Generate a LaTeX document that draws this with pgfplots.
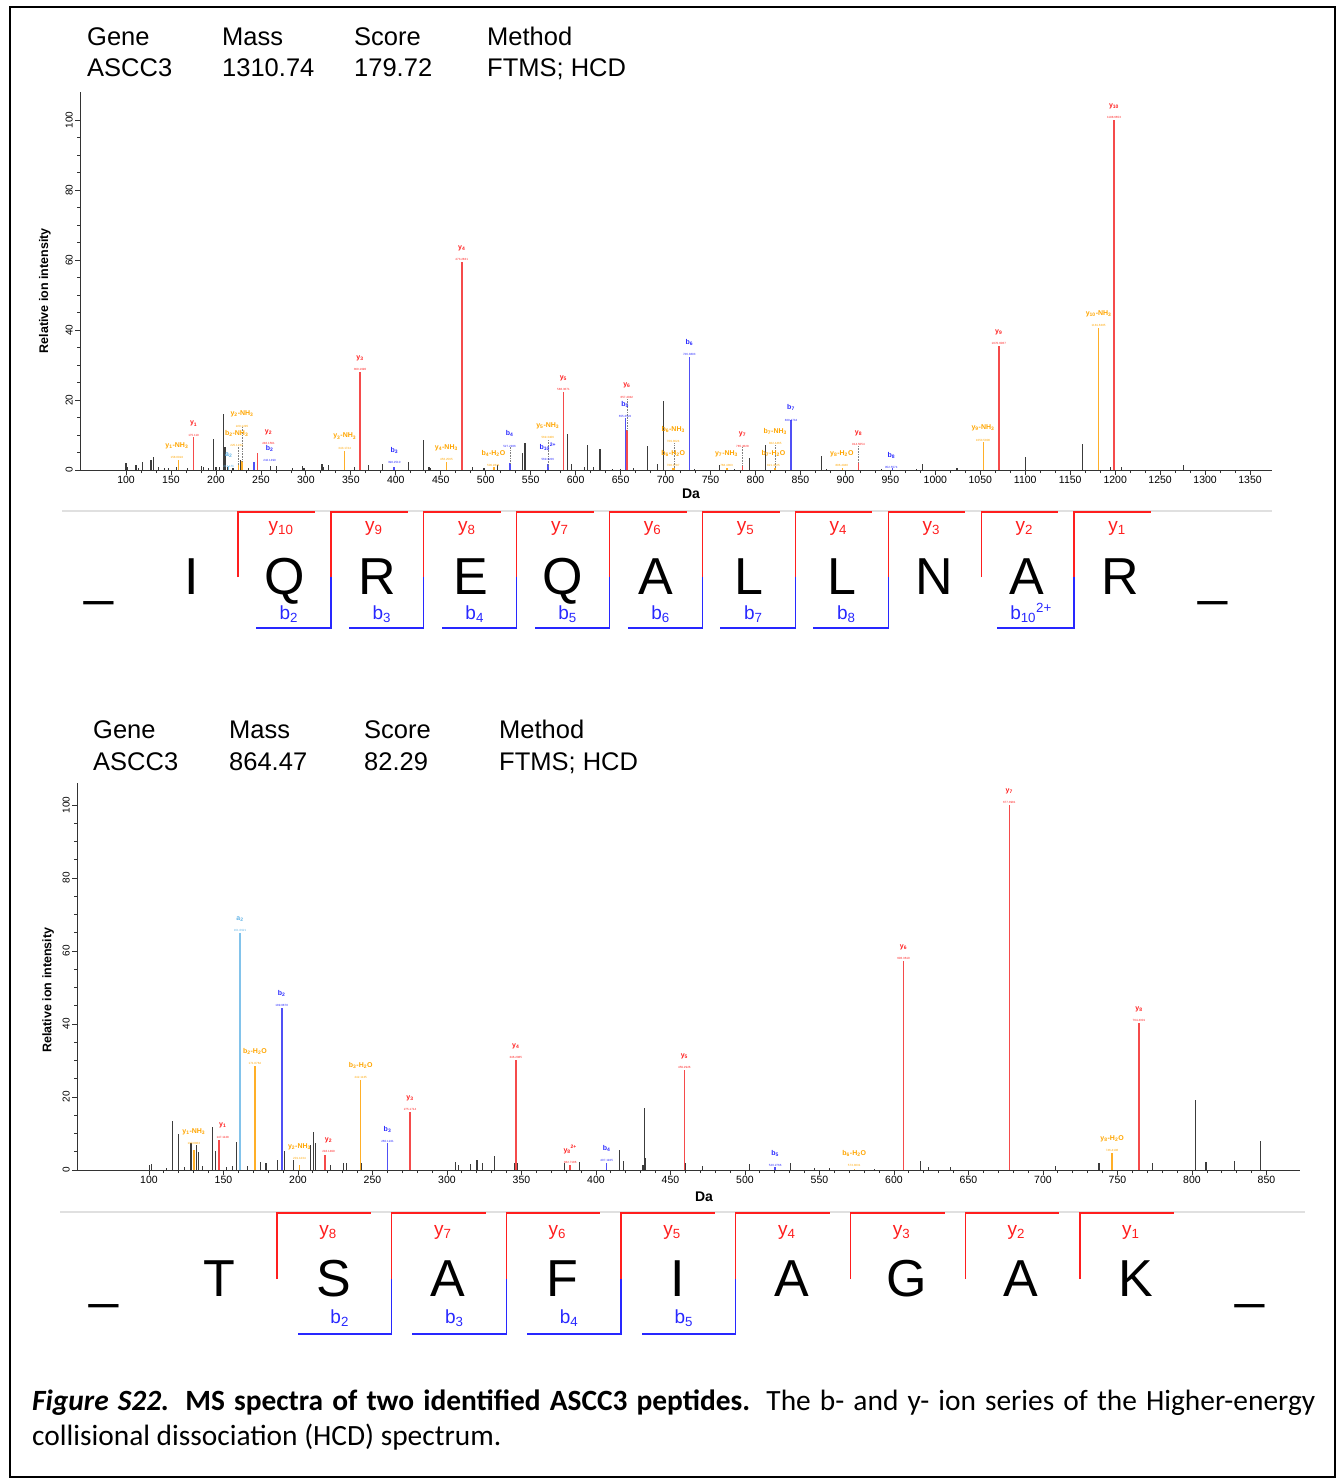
\documentclass[border=0pt]{standalone}
\usepackage{pgfplots}
\pgfplotsset{compat=1.18}
\usepackage{fontspec}
\setmainfont{Liberation Sans}
\newfontfamily\capfont{Carlito}
\definecolor{pkred}{RGB}{245,75,75}
\definecolor{pkblue}{RGB}{80,80,245}
\definecolor{pkorange}{RGB}{255,175,40}
\definecolor{pklblue}{RGB}{130,195,235}
\definecolor{pkgray}{RGB}{60,60,60}
\definecolor{lred}{RGB}{255,30,30}
\definecolor{lblue}{RGB}{40,40,255}
\definecolor{lorange}{RGB}{255,165,0}
\definecolor{llblue}{RGB}{100,180,230}
\newcommand{\lb}[5]{\node[anchor=south,align=center,inner sep=0pt,text=#3] at (axis cs:#1,#2) {{\fontsize{7}{7}\selectfont\bfseries #4}\\[-0.8pt]{\fontsize{3}{3}\selectfont #5}};}
\newcommand{\dl}[3]{\draw[densely dotted,gray,line width=0.6pt] (axis cs:#1,#2) -- (axis cs:#1,#3);}
\newcommand{\ys}[1]{y\textsubscript{#1}}
\newcommand{\bs}[1]{b\textsubscript{#1}}
\newcommand{\NH}{-NH\textsubscript{3}}
\newcommand{\HO}{-H\textsubscript{2}O}
\pgfplotsset{msaxis/.style={
  scale only axis, clip=false,
  axis x line=bottom, axis y line=left,
  axis line style={-, line width=1pt, black!80},
  ymin=0,
  tick align=outside,
  major tick length=5pt, minor tick length=3pt,
  every tick/.style={black!80, line width=0.8pt},
  ytick={0,20,...,100}, minor y tick num=3,
  xticklabel style={font=\fontsize{10.5}{10.5}\selectfont, inner sep=1pt},
  yticklabel style={font=\fontsize{10}{10}\selectfont, rotate=90, anchor=south, inner sep=2pt},
  /pgf/number format/assume math mode=true,
  /pgf/number format/1000 sep={},
  scaled x ticks=false,
  xlabel={\bfseries Da},
  xlabel style={font=\fontsize{14}{14}\selectfont, anchor=center},
  ylabel={\bfseries Relative ion intensity},
  ylabel style={font=\fontsize{12.5}{12.5}\selectfont, anchor=center},
}}
\begin{document}
\begin{tikzpicture}[x=1pt,y=-1pt]
\useasboundingbox (0,0) rectangle (1341,1479);
\draw[line width=1.5pt, black] (10,7) rectangle (1335,1477);
% ---------- header
\begin{scope}[every node/.style={anchor=base west, inner sep=0pt, font=\fontsize{25.5}{25.5}\selectfont}]
\node at (87,46) {Gene}; \node at (87,77) {ASCC3};
\node at (222,46) {Mass}; \node at (222,77) {1310.74};
\node at (354,46) {Score}; \node at (354,77) {179.72};
\node at (487,46) {Method}; \node at (487,77) {FTMS; HCD};
\node at (93,738) {Gene}; \node at (93,770) {ASCC3};
\node at (229,738) {Mass}; \node at (229,770) {864.47};
\node at (364,738) {Score}; \node at (364,770) {82.29};
\node at (499,738) {Method}; \node at (499,770) {FTMS; HCD};
\end{scope}
% ---------- spectrum 1
\begin{axis}[msaxis, at={(80pt,-470pt)}, anchor=south west,
  width=1192pt, height=378pt, xmin=48.8, xmax=1374.4, ymax=108,
  xtick={100,150,...,1350}, minor x tick num=2,
  xlabel style={at={(axis description cs:0.5126,-0.0635)}},
  ylabel style={at={(axis description cs:-0.0294,0.474)}}]
\addplot[ycomb, pkgray, line width=1.2pt, no marks] coordinates {
(100,2) (102,1) (111,1.4) (114,0.6) (118.6,2.4) (127.8,3) (130.4,3.8) (136,0.8) (143,0.5) (147,0.6) (156,0.8) (168,0.5) (184,1.2) (186,0.8) (192,0.5) (197.3,8.8) (200,1) (204,0.8) (208.4,15.9) (210,6.5) (213,0.8) (219,0.6) (227,3) (236,0.5) (261,1.1) (267,1.1) (285,0.6) (296,1.1) (298,0.6) (318,1.7) (320,0.8) (325,1.4) (354,0.8) (370,1.4) (385,1.7) (413.8,2.4) (430.5,8.6) (437,0.8) (439,0.6) (485,0.8) (498,0.5) (513,1.4) (540.8,4.8) (543.7,7.6) (590.7,10.3) (595.6,1.7) (610,1) (613,7.1) (619.6,1) (627,6) (640.7,0.4) (650,0.4) (664,0.5) (680,7) (690.7,1.7) (697.4,19.8) (732,0.2) (760,1.4) (777,0.3) (793.7,3.5) (811,7.1) (873,4.1) (878.9,0.2) (940,0.3) (979,0.2) (986,1.6) (1024,0.6) (1100.4,3.6) (1163.7,7.4) (1195,1) (1207,0.8) (1276,1.4)};
\addplot[ycomb, pkorange, line width=1.4pt, no marks] coordinates {
(158.09,3) (225.12,1.5) (229.13,2.5) (343.17,5.5) (456.26,2.4) (509.28,0.8) (569.34,1.1) (708.38,0.6) (709.36,0.6) (768.44,0.5) (821.46,0.6) (822.45,0.6) (896.49,0.5) (1053.58,7.9) (1181.64,40.6)};
\addplot[ycomb, pklblue, line width=1.4pt, no marks] coordinates {(214.16,1.2)};
\addplot[ycomb, pkblue, line width=1.6pt, no marks] coordinates {
(242.15,2.4) (398.25,1) (527.29,1.9) (569.32,1.6) (655.35,14.8) (726.39,32.4) (839.47,14.3) (952.56,0.5)};
\addplot[ycomb, pkred, line width=1.6pt, no marks] coordinates {
(175.12,9.5) (246.16,4.8) (360.2,28.1) (473.28,59.5) (586.37,22.4) (657.4,11.4) (785.46,1.4) (914.51,2.1) (1070.61,35.4) (1198.67,100)};
\dl{225.12}{1.5}{6.7} \dl{229.13}{2.5}{12.2} \dl{527.29}{1.9}{6.5} \dl{569.34}{1.1}{8.8}
\dl{657.4}{11.4}{20.5} \dl{709.36}{0.6}{7.8} \dl{785.46}{1.4}{6.5} \dl{822.45}{0.6}{7.1} \dl{914.51}{2.1}{6.9}
\lb{175.12}{9.6}{lred}{\ys{1}}{175.119}
\lb{156.5}{3.3}{lorange}{\ys{1}\NH}{158.0924}
\lb{214.2}{0.6}{llblue}{a\textsubscript{2}}{214.155}
\lb{223}{6.7}{lorange}{\bs{2}\NH}{225.1234}
\lb{229}{12.2}{lorange}{\ys{2}\NH}{229.1295}
\lb{258.5}{7.1}{lred}{\ys{2}}{246.1561}
\lb{259.7}{2.4}{lblue}{\bs{2}}{242.1499}
\lb{343.2}{5.9}{lorange}{\ys{3}\NH}{343.1724}
\lb{360.2}{28.3}{lred}{\ys{3}}{360.1990}
\lb{398.3}{1.7}{lblue}{\bs{3}}{398.2510}
\lb{456.3}{2.7}{lorange}{\ys{4}\NH}{456.2565}
\lb{473.3}{59.8}{lred}{\ys{4}}{473.2831}
\lb{508.5}{0.9}{lorange}{\bs{4}\HO}{509.2831}
\lb{526.5}{6.5}{lblue}{\bs{4}}{527.2936}
\lb{569}{8.8}{lorange}{\ys{5}\NH}{569.3406}
\lb{569}{2.6}{lblue}{b\textsubscript{10}\textsuperscript{2+}}{569.3226}
\lb{586.4}{22.6}{lred}{\ys{5}}{586.3671}
\lb{657}{20.5}{lred}{\ys{6}}{657.4042}
\lb{655}{14.9}{lblue}{\bs{5}}{655.3522}
\lb{708.5}{7.8}{lorange}{\bs{6}\NH}{709.3624}
\lb{708.5}{1.0}{lorange}{\bs{6}\HO}{708.3787}
\lb{726.4}{32.6}{lblue}{\bs{6}}{726.3893}
\lb{767.8}{1.0}{lorange}{\ys{7}\NH}{768.4363}
\lb{785.5}{6.5}{lred}{\ys{7}}{785.4628}
\lb{822}{7.1}{lorange}{\bs{7}\NH}{822.4465}
\lb{820}{1.0}{lorange}{\bs{7}\HO}{821.4625}
\lb{839.5}{13.9}{lblue}{\bs{7}}{839.4734}
\lb{896}{1.0}{lorange}{\ys{8}\HO}{896.4940}
\lb{914.5}{6.9}{lred}{\ys{8}}{914.5054}
\lb{951}{0.4}{lblue}{\bs{8}}{952.5574}
\lb{1053}{8.2}{lorange}{\ys{9}\NH}{1053.5800}
\lb{1070.6}{35.7}{lred}{\ys{9}}{1070.6067}
\lb{1181.6}{40.8}{lorange}{\ys{10}\NH}{1181.6385}
\lb{1198.7}{100.3}{lred}{\ys{10}}{1198.6653}
\end{axis}
% ---------- ladder 1
\draw[black!12, line width=2pt] (62,511) -- (1272,511);
\foreach \k/\n in {0/10,1/9,2/8,3/7,4/6,5/5,6/4,7/3,8/2,9/1}{
  \pgfmathsetmacro\xk{238+92.9*\k}
  \draw[lred, line width=1.3pt] (\xk,577) -- (\xk,512) -- (\xk+77,512);
  \node[lred, inner sep=0pt, anchor=base, font=\fontsize{19}{19}\selectfont] at (\xk+43,531) {y\textsubscript{\n}};
}
\foreach \n in {2,...,8}{
  \pgfmathsetmacro\xr{238+92.9*(\n-1)}
  \draw[lblue, line width=1.3pt] (\xr,577) -- (\xr,628) -- (\xr-75,628);
  \node[lblue, inner sep=0pt, anchor=base, font=\fontsize{19}{19}\selectfont] at (\xr-42,619) {b\textsubscript{\n}};
}
\draw[lblue, line width=1.3pt] (1074.1,577) -- (1074.1,628) -- (997,628);
\node[lblue, inner sep=0pt, anchor=base, font=\fontsize{19}{19}\selectfont] at (1031,619) {b\textsubscript{10}\textsuperscript{2+}};
\foreach \j/\c in {0/I,1/Q,2/R,3/E,4/Q,5/A,6/L,7/L,8/N,9/A,10/R}{
  \node[anchor=base, inner sep=0pt, font=\fontsize{52}{52}\selectfont] at (192+92.8*\j,594) {\c};
}
\node[anchor=base, inner sep=0pt, font=\fontsize{52}{52}\selectfont] at (99,594) {\_};
\node[anchor=base, inner sep=0pt, font=\fontsize{52}{52}\selectfont] at (1213,594) {\_};
% ---------- spectrum 2
\begin{axis}[msaxis, at={(77pt,-1170pt)}, anchor=south west,
  width=1223pt, height=387pt, xmin=51.7, xmax=872.5, ymax=106,
  xtick={100,150,...,850}, minor x tick num=4,
  xlabel style={at={(axis description cs:0.5127,-0.0698)}},
  ylabel style={at={(axis description cs:-0.0237,0.465)}}]
\addplot[ycomb, pkgray, line width=1.2pt, no marks] coordinates {
(100.2,1.4) (101.8,1.6) (112,0.5) (115.9,13.5) (119.7,9.9) (124,0.9) (128.2,7.3) (132,6.8) (133.1,5) (136,1) (142.8,11.9) (144.6,5.3) (152,0.8) (156,1) (158.9,7.8) (161.6,1.6) (166,1) (174.6,2.3) (178.6,1.8) (186.4,2.7) (190.7,5.3) (197,2.7) (208.6,6.8) (210.4,10.5) (211.5,7.3) (221.6,1.4) (230.6,1.8) (232.8,1.8) (242.9,1.8) (305.6,2.3) (307.8,1.4) (315.7,1.6) (320.2,2.7) (323.6,1.8) (332.1,3.8) (345.5,2) (347.3,2) (379,2) (388.7,2.3) (416,5.5) (418.2,2.5) (431.6,1.4) (432.7,16.9) (433.4,3.2) (460,2) (471.4,1.1) (503.2,1.6) (530.7,2) (546.8,0.6) (556.8,0.5) (587,0.4) (618,2.5) (623,0.7) (638,0.9) (708.5,1.1) (737.6,2) (773.4,2) (802.4,19.2) (809.4,2.3) (828.3,2.6) (846.2,7.9)};
\addplot[ycomb, pkorange, line width=1.4pt, no marks] coordinates {
(130.09,5.5) (171.08,28.5) (201.12,1.4) (242.11,24.7) (573.3,0.4) (746.42,4.6)};
\addplot[ycomb, pklblue, line width=1.4pt, no marks] coordinates {(161.09,64.8)};
\addplot[ycomb, pkblue, line width=1.6pt, no marks] coordinates {
(189.09,44.3) (260.12,7.3) (407.19,1.8) (520.28,0.9)};
\addplot[ycomb, pkred, line width=1.6pt, no marks] coordinates {
(147.11,8.2) (218.15,4.1) (275.17,16) (346.21,30.1) (382.72,1.4) (459.29,27.4) (606.36,57.3) (677.4,100) (764.43,40.2)};
\lb{130.1}{6.9}{lorange}{\ys{1}\NH}{130.0863}
\lb{149.5}{8.7}{lred}{\ys{1}}{147.1128}
\lb{161.1}{65.2}{llblue}{a\textsubscript{2}}{161.0921}
\lb{171.1}{28.8}{lorange}{\bs{2}\HO}{171.0764}
\lb{189.1}{44.6}{lblue}{\bs{2}}{189.0870}
\lb{201}{2.7}{lorange}{\ys{2}\NH}{201.1234}
\lb{220.5}{4.6}{lred}{\ys{2}}{218.1499}
\lb{242.1}{25.0}{lorange}{\bs{3}\HO}{242.1135}
\lb{260.1}{7.5}{lblue}{\bs{3}}{260.1241}
\lb{275.2}{16.3}{lred}{\ys{3}}{275.1714}
\lb{346.2}{30.4}{lred}{\ys{4}}{346.2085}
\lb{382.7}{1.8}{lred}{\ys{8}\textsuperscript{2+}}{382.7186}
\lb{407.2}{2.3}{lblue}{\bs{4}}{407.1925}
\lb{459.3}{27.7}{lred}{\ys{5}}{459.2926}
\lb{520.3}{0.9}{lblue}{\bs{5}}{520.2766}
\lb{573.3}{0.9}{lorange}{\bs{6}\HO}{573.3031}
\lb{606.4}{57.6}{lred}{\ys{6}}{606.3610}
\lb{677.4}{100.4}{lred}{\ys{7}}{677.3981}
\lb{746.4}{5.0}{lorange}{\ys{8}\HO}{746.4196}
\lb{764.4}{40.5}{lred}{\ys{8}}{764.4301}
\end{axis}
% ---------- ladder 2
\draw[black!12, line width=2pt] (60,1212) -- (1305,1212);
\foreach \k/\n in {0/8,1/7,2/6,3/5,4/4,5/3,6/2,7/1}{
  \pgfmathsetmacro\xk{277+114.7*\k}
  \draw[lred, line width=1.3pt] (\xk,1279) -- (\xk,1213) -- (\xk+94,1213);
  \node[lred, inner sep=0pt, anchor=base, font=\fontsize{19}{19}\selectfont] at (\xk+51,1235) {y\textsubscript{\n}};
}
\foreach \n in {2,...,5}{
  \pgfmathsetmacro\xr{277+114.7*(\n-1)}
  \draw[lblue, line width=1.3pt] (\xr,1279) -- (\xr,1334) -- (\xr-94,1334);
  \node[lblue, inner sep=0pt, anchor=base, font=\fontsize{19}{19}\selectfont] at (\xr-52,1323) {b\textsubscript{\n}};
}
\foreach \j/\c in {0/T,1/S,2/A,3/F,4/I,5/A,6/G,7/A,8/K}{
  \node[anchor=base, inner sep=0pt, font=\fontsize{52}{52}\selectfont] at (219+114.6*\j,1296) {\c};
}
\node[anchor=base, inner sep=0pt, font=\fontsize{52}{52}\selectfont] at (104,1297) {\_};
\node[anchor=base, inner sep=0pt, font=\fontsize{52}{52}\selectfont] at (1250,1297) {\_};
% ---------- caption
\node[anchor=base west, inner sep=0pt, font=\capfont\fontsize{29.4}{29.4}\selectfont] at (32,1410)
  {\makebox[1283pt][s]{\textbf{\textit{Figure S22.}} \textbf{MS spectra of two identified ASCC3 peptides.} The b- and y- ion series of the Higher-energy}};
\node[anchor=base west, inner sep=0pt, font=\capfont\fontsize{29.4}{29.4}\selectfont] at (32,1445)
  {collisional dissociation (HCD) spectrum.};
\end{tikzpicture}
\end{document}
